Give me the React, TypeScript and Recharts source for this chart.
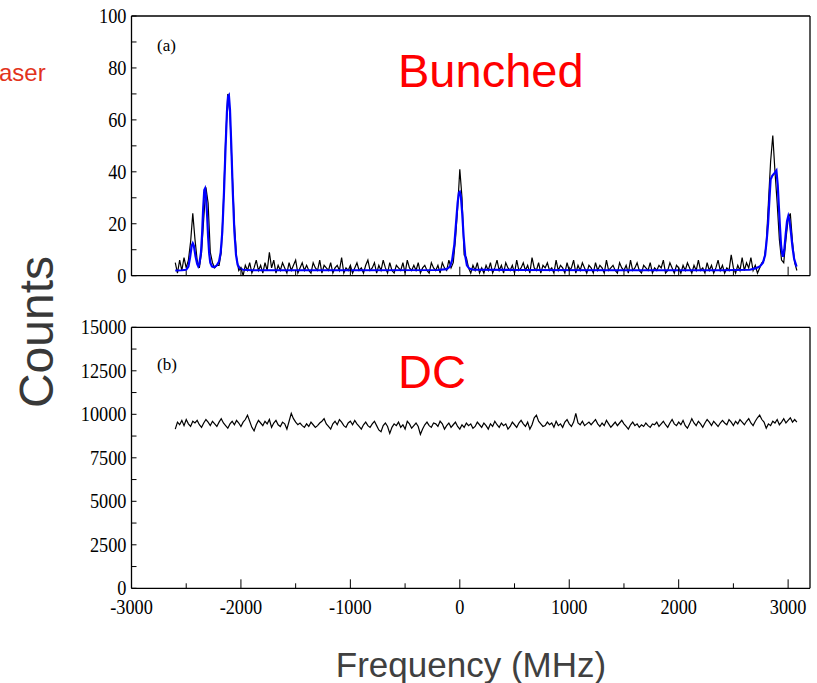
import React from 'react';
import { LineChart, Line, XAxis, YAxis } from 'recharts';

// ---- data ----
const FREQ_START = -2600; // MHz, first bin
const FREQ_STEP = 20; // MHz, bin width

// (a) Bunched: measured counts, one per bin from -2600 to 3080 MHz
const bunchedCounts = [
  5, 1, 6, 2, 7, 3, 6, 13, 24, 14,
  6, 3, 9, 22, 34, 28, 9, 5, 3, 4,
  4, 9, 28, 52, 70, 62, 40, 20, 7, 2,
  3, 0, 4, 2, 5, 1, 3, 6, 2, 4,
  1, 5, 2, 9, 3, 6, 1, 4, 2, 5,
  3, 1, 5, 2, 4, 6, 1, 3, 5, 2,
  4, 2, 1, 5, 3, 2, 6, 1, 4, 3,
  2, 5, 1, 3, 4, 2, 7, 1, 3, 2,
  4, 1, 3, 5, 2, 3, 1, 4, 6, 2,
  3, 5, 1, 4, 2, 6, 3, 1, 5, 2,
  1, 4, 3, 2, 5, 1, 6, 3, 2, 4,
  2, 5, 1, 3, 4, 2, 1, 5, 3, 2,
  4, 1, 5, 3, 2, 6, 3, 5, 14, 26,
  41, 30, 8, 7, 3, 1, 4, 2, 5, 1,
  3, 1, 4, 2, 5, 1, 3, 6, 2, 4,
  1, 5, 3, 2, 4, 1, 6, 2, 3, 5,
  2, 4, 1, 7, 3, 2, 5, 1, 4, 3,
  5, 2, 3, 1, 6, 2, 4, 3, 1, 5,
  2, 3, 6, 1, 4, 2, 5, 3, 1, 4,
  3, 1, 5, 2, 4, 3, 1, 6, 2, 3,
  4, 2, 1, 5, 3, 2, 4, 1, 6, 2,
  3, 5, 2, 1, 4, 3, 2, 5, 1, 3,
  2, 4, 3, 6, 1, 2, 5, 3, 1, 4,
  3, 1, 4, 2, 5, 3, 1, 4, 2, 6,
  2, 3, 1, 5, 2, 4, 1, 3, 6, 2,
  4, 1, 3, 2, 8, 3, 1, 4, 2, 7,
  2, 5, 3, 7, 2, 4, 1, 3, 5, 6,
  12, 28, 44, 54, 40, 28, 14, 6, 5, 14,
  22, 24, 13, 5, 2,
];

// (a) fitted curve (blue)
const fitFreq = [
  -2600, -2540, -2500, -2480, -2465, -2450, -2440, -2430, -2415, -2400, -2390,
  -2380, -2365, -2355, -2345, -2335, -2328, -2320, -2310, -2300, -2290, -2280, -2265, -2250, -2235,
  -2220, -2200, -2185, -2170, -2155, -2140, -2128, -2118, -2110, -2100, -2088, -2075, -2060, -2045, -2030, -2010, -1980, -1900,
  -1500, -1000, -200,
  -120, -90, -70, -50, -35, -20, -8, 0, 10, 22, 35, 50, 65, 85, 120,
  500, 1500, 2400, 2650,
  2700, 2740, 2770, 2790, 2805, 2817, 2830, 2840, 2855, 2875, 2893, 2905, 2915, 2924, 2935, 2945, 2954,
  2965, 2978, 2990, 3002, 3012, 3025, 3040, 3055, 3077,
];
const fitCounts = [
  2.0, 2.1, 2.3, 3.5, 7, 11.5, 12.5, 11.5, 7.5, 4.5, 3.6,
  4.5, 9, 16, 26, 33, 33.6, 31, 24, 15, 8.5, 5, 3.6, 3.3, 3.5,
  4, 5.5, 9, 17, 32, 50, 63, 69, 69.5, 64, 50, 33, 17, 8, 4.2, 2.8, 2.3, 2.1,
  2.1, 2.1, 2.2,
  2.5, 3.5, 6, 12, 20, 28, 32, 32.3, 30.5, 24, 15, 7.5, 4, 2.8, 2.3,
  2.2, 2.1, 2.1, 2.3,
  2.8, 3.5, 5, 8, 14, 20, 30, 37, 38.5, 39.5, 40.5, 35, 27, 20, 12, 8.5, 7.3,
  10, 16, 21, 23, 21.5, 17, 11, 6.5, 3.5,
];

// (b) DC: counts per bin from -2600 to 3080 MHz
const dcCounts = [
  9150, 9550, 9400, 9650, 9350, 9700, 9450, 9300, 9600, 9500,
  9650, 9400, 9250, 9500, 9700, 9550, 9350, 9600, 9450, 9300,
  9550, 9750, 9500, 9350, 9200, 9450, 9600, 9400, 9650, 9500,
  9300, 9550, 9700, 9950, 9600, 9250, 9050, 9400, 9650, 9500,
  9350, 9600, 9450, 9700, 9250, 9500, 9650, 9400, 9300, 9550,
  9450, 9150, 9600, 10050, 9750, 9550, 9400, 9500, 9350, 9250,
  9450, 9300, 9550, 9400, 9250, 9350, 9500, 9600, 9750, 9450,
  9300, 9150, 9450, 9600, 9400, 9700, 9550, 9350, 9250, 9500,
  9600, 9400, 9650, 9450, 9300, 9150, 9400, 9550, 9350, 9250,
  9450, 9600, 9350, 9100, 9000, 9350, 9500, 9300, 8900, 9250,
  9450, 9350, 9550, 9250, 9400, 9150, 9600, 9450, 9200, 9350,
  9500, 9300, 8850, 9150, 9400, 9550, 9350, 9250, 9500, 9450,
  9300, 9600, 9450, 9150, 9350, 9500, 9250, 9400, 9550, 9300,
  9150, 9400, 9250, 9500, 9350, 9450, 9200, 9300, 9550, 9400,
  9250, 9500, 9350, 9150, 9450, 9300, 9600, 9400, 9250, 9500,
  9350, 9450, 9150, 9300, 9550, 9400, 9250, 9500, 9650, 9450,
  9300, 9550, 9150, 9400, 9800, 9950, 9600, 9450, 9300, 9350,
  9550, 9400, 9500, 9250, 9600, 9350, 9450, 9250, 9550, 9700,
  9450, 9300, 9550, 10050, 9500, 9400, 9600, 9350, 9450, 9550,
  9400, 9550, 9700, 9450, 9300, 9500, 9350, 9650, 9450, 9250,
  9400, 9550, 9350, 9500, 9650, 9450, 9300, 9150, 9400, 9550,
  9350, 9450, 9250, 9400, 9300, 9500, 9350, 9250, 9450, 9400,
  9550, 9300, 9450, 9600, 9400, 9250, 9500, 9700, 9450, 9350,
  9550, 9400, 9650, 9350, 9200, 9450, 9750, 9500, 9350, 9600,
  9450, 9250, 9500, 9700, 9550, 9350, 9600, 9450, 9300, 9500,
  9650, 9500, 9400, 9700, 9550, 9350, 9600, 9450, 9700, 9550,
  9400, 9600, 9750, 9500, 9350, 9600, 9800, 9950, 9700, 9550,
  9200, 9450, 9350, 9600, 9500, 9700, 9400, 9550, 9750, 9500,
  9650, 9800, 9550, 9700, 9550,
];

// axis ticks
const xTicks = [-3000, -2500, -2000, -1500, -1000, -500, 0, 500, 1000, 1500, 2000, 2500, 3000];
const xLabelTicks = [-3000, -2000, -1000, 0, 1000, 2000, 3000];
const bunchedYTicks = [0, 10, 20, 30, 40, 50, 60, 70, 80, 90, 100];
const bunchedYLabels = [0, 20, 40, 60, 80, 100];
const dcYTicks = [0, 1250, 2500, 3750, 5000, 6250, 7500, 8750, 10000, 11250, 12500, 13750, 15000];
const dcYLabels = [0, 2500, 5000, 7500, 10000, 12500, 15000];

// tables for the library
const bunchedData = bunchedCounts.map((c, i) => ({ f: FREQ_START + i * FREQ_STEP, c }));
const fitData = fitFreq.map((f, i) => ({ f, c: fitCounts[i] }));
const dcData = dcCounts.map((c, i) => ({ f: FREQ_START + i * FREQ_STEP, c }));

const SERIF = '"Liberation Serif", "Times New Roman", serif';
const SANS = '"Liberation Sans", Arial, sans-serif';
const AXIS = { stroke: '#000', strokeWidth: 1.3 };
const TICK_FONT = 21;
const TICK_SQUEEZE = 0.87;

const TickText = ({ x, y, anchor, children }: any) => (
  <text
    transform={`translate(${x},${y}) scale(${TICK_SQUEEZE},1)`}
    textAnchor={anchor}
    fontFamily={SERIF}
    fontSize={TICK_FONT}
    fill="#000"
  >
    {children}
  </text>
);

const makeLeftTick = (labels: number[]) => (props: any) => {
  const { x, y, payload } = props;
  const v = payload.value;
  return (
    <g>
      <line x1={x} x2={x + 5} y1={y} y2={y} stroke="#000" strokeWidth={1} />
      {labels.includes(v) && (
        <TickText x={x - 5} y={y + 7} anchor="end">
          {v}
        </TickText>
      )}
    </g>
  );
};

const rightTick = (props: any) => {
  const { x, y } = props;
  return <line x1={x - 5} x2={x} y1={y} y2={y} stroke="#000" strokeWidth={1} />;
};

const topTick = (props: any) => {
  const { x, y } = props;
  return <line x1={x} x2={x} y1={y} y2={y + 8} stroke="#000" strokeWidth={1} />;
};

const makeBottomTick = (showLabels: boolean) => (props: any) => {
  const { x, y, payload } = props;
  const v = payload.value;
  const major = xLabelTicks.includes(v);
  return (
    <g>
      <line x1={x} x2={x} y1={y} y2={y - (major ? 9 : 5)} stroke="#000" strokeWidth={1} />
      {showLabels && major && (
        <TickText x={x} y={y + 26} anchor="middle">
          {v}
        </TickText>
      )}
    </g>
  );
};

const LEFT_W = 60;

function Panel({ top, height, plotTop, plotBottom, yDomain, yTicks, yLabels, showXLabels, children }: any) {
  // plot area: x 131.5 .. 810, y plotTop .. plotBottom (page px)
  const margin = {
    top: plotTop - top - 1,
    bottom: top + height - plotBottom - 1,
    left: 131.5 - LEFT_W,
    right: 817 - 810 - 1,
  };
  return (
    <div style={{ position: 'absolute', left: 0, top, width: 817, height }}>
      <LineChart width={817} height={height} margin={margin}>
        <XAxis
          xAxisId="b"
          type="number"
          dataKey="f"
          domain={[-3000, 3200]}
          ticks={xTicks}
          interval={0}
          orientation="bottom"
          height={1}
          tickSize={0}
          tickMargin={0}
          tickLine={false}
          axisLine={AXIS}
          tick={makeBottomTick(showXLabels)}
        />
        <XAxis
          xAxisId="t"
          type="number"
          dataKey="f"
          domain={[-3000, 3200]}
          ticks={xTicks}
          interval={0}
          orientation="top"
          height={1}
          tickSize={0}
          tickMargin={0}
          tickLine={false}
          axisLine={AXIS}
          tick={topTick}
        />
        <YAxis
          yAxisId="l"
          type="number"
          domain={yDomain}
          ticks={yTicks}
          interval={0}
          orientation="left"
          width={LEFT_W}
          tickSize={0}
          tickMargin={0}
          tickLine={false}
          axisLine={AXIS}
          tick={makeLeftTick(yLabels)}
        />
        <YAxis
          yAxisId="r"
          type="number"
          domain={yDomain}
          ticks={yTicks}
          interval={0}
          orientation="right"
          width={1}
          tickSize={0}
          tickMargin={0}
          tickLine={false}
          axisLine={AXIS}
          tick={rightTick}
        />
        {children}
      </LineChart>
    </div>
  );
}

export default function App() {
  return (
    <div
      style={{
        position: 'absolute',
        left: 0,
        top: 0,
        width: 817,
        height: 683,
        background: '#fff',
        overflow: 'hidden',
      }}
    >
      <Panel
        top={0}
        height={300}
        plotTop={16}
        plotBottom={275.7}
        yDomain={[0, 100]}
        yTicks={bunchedYTicks}
        yLabels={bunchedYLabels}
        showXLabels={false}
      >
        <Line
          xAxisId="b"
          yAxisId="l"
          data={bunchedData}
          dataKey="c"
          type="linear"
          stroke="#000"
          strokeWidth={1.2}
          dot={false}
          isAnimationActive={false}
        />
        <Line
          xAxisId="b"
          yAxisId="l"
          data={fitData}
          dataKey="c"
          type="linear"
          stroke="#0000ff"
          strokeWidth={2.2}
          dot={false}
          isAnimationActive={false}
        />
      </Panel>
      <Panel
        top={300}
        height={383}
        plotTop={327.3}
        plotBottom={588.3}
        yDomain={[0, 15000]}
        yTicks={dcYTicks}
        yLabels={dcYLabels}
        showXLabels={true}
      >
        <Line
          xAxisId="b"
          yAxisId="l"
          data={dcData}
          dataKey="c"
          type="linear"
          stroke="#000"
          strokeWidth={1.2}
          dot={false}
          isAnimationActive={false}
        />
      </Panel>
      <svg
        width={817}
        height={683}
        style={{ position: 'absolute', left: 0, top: 0, pointerEvents: 'none' }}
      >
        <text x={-1} y={81} fontFamily={SANS} fontSize={24} fill="#e2331c">
          aser
        </text>
        <text x={398} y={87} fontFamily={SANS} fontSize={47} fill="#ff0000">
          Bunched
        </text>
        <text x={398} y={388} fontFamily={SANS} fontSize={47} fill="#ff0000">
          DC
        </text>
        <text x={157} y={51} fontFamily={SERIF} fontSize={17} fill="#000">
          (a)
        </text>
        <text x={157} y={370} fontFamily={SERIF} fontSize={17} fill="#000">
          (b)
        </text>
        <text
          x={53}
          y={332}
          transform="rotate(-90, 53, 332)"
          textAnchor="middle"
          fontFamily={SANS}
          fontSize={48}
          fill="#383838"
        >
          Counts
        </text>
        <text x={471} y={677} textAnchor="middle" fontFamily={SANS} fontSize={35} fill="#404040">
          Frequency (MHz)
        </text>
      </svg>
    </div>
  );
}
